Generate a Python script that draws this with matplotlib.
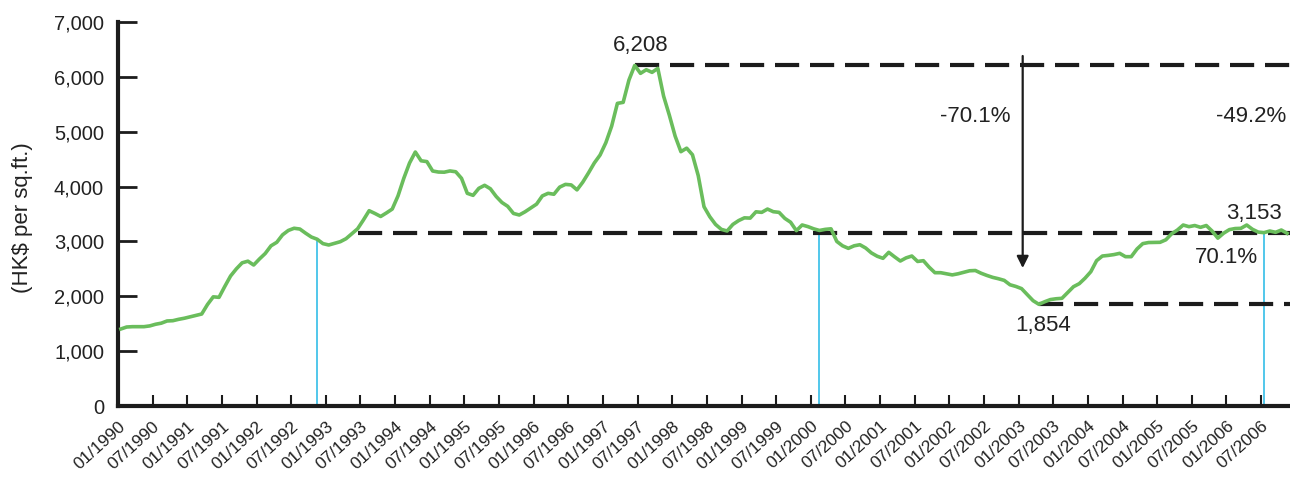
import matplotlib
matplotlib.use("Agg")
import matplotlib.pyplot as plt
import numpy as np

plt.rcParams['font.family'] = ['Liberation Sans', 'DejaVu Sans']

# Monthly average price, 01/1990 .. 11/2006 (HK$ per sq.ft.)
prices = [
    1404, 1440, 1446, 1446, 1446, 1460, 1490, 1510, 1550, 1555,
    1580, 1600, 1625, 1650, 1677, 1850, 1990, 1981, 2180, 2370,
    2500, 2610, 2640, 2570, 2680, 2780, 2920, 2984, 3120, 3200,
    3240, 3226, 3150, 3080, 3040, 2960, 2935, 2965, 2995, 3050,
    3140, 3230, 3390, 3560, 3510, 3455, 3520, 3590, 3830, 4150,
    4430, 4630, 4470, 4455, 4284, 4265, 4262, 4285, 4270, 4150,
    3877, 3840, 3968, 4023, 3960, 3820, 3710, 3640, 3510, 3482,
    3540, 3610, 3680, 3830, 3877, 3860, 3990, 4040, 4030, 3940,
    4080, 4250, 4430, 4575, 4800, 5100, 5517, 5535, 5942, 6208,
    6064, 6130, 6082, 6155, 5650, 5300, 4920, 4636, 4700, 4580,
    4200, 3633, 3451, 3310, 3220, 3190, 3310, 3380, 3430, 3425,
    3540, 3530, 3590, 3542, 3530, 3420, 3350, 3196, 3300, 3270,
    3230, 3200, 3220, 3230, 3000, 2920, 2874, 2920, 2940, 2880,
    2790, 2730, 2692, 2801, 2720, 2643, 2700, 2734, 2635, 2649,
    2530, 2430, 2430, 2410, 2390, 2410, 2437, 2465, 2470, 2420,
    2380, 2345, 2320, 2290, 2210, 2180, 2140, 2030, 1920, 1854,
    1900, 1940, 1955, 1963, 2070, 2175, 2230, 2330, 2448, 2649,
    2734, 2745, 2760, 2783, 2722, 2722, 2862, 2960, 2980, 2982,
    2984, 3030, 3140, 3208, 3299, 3269, 3290, 3257, 3290, 3190,
    3060, 3150, 3215, 3235, 3239, 3299, 3221, 3170, 3160, 3190,
    3166, 3208, 3148,
]

tick_labels = [
    "01/1990", "07/1990", "01/1991", "07/1991", "01/1992", "07/1992",
    "01/1993", "07/1993", "01/1994", "07/1994", "01/1995", "07/1995",
    "01/1996", "07/1996", "01/1997", "07/1997", "01/1998", "07/1998",
    "01/1999", "07/1999", "01/2000", "07/2000", "01/2001", "07/2001",
    "01/2002", "07/2002", "01/2003", "07/2003", "01/2004", "07/2004",
    "01/2005", "07/2005", "01/2006", "07/2006",
]

peak_value = 6208
trough_value = 1854
current_value = 3153
peak_idx = 89
trough_idx = 159
level_start_idx = 41
marker_idx = [34, 121, 198]

green = "#6abd5c"
cyan = "#22b8e6"
ink = "#1c1c1c"

fig = plt.figure(figsize=(12.9, 4.84), dpi=100)
ax = fig.add_axes([118/1290, 78/484, 1172/1290, 384/484])

x = np.arange(len(prices)) + 0.5

# vertical cyan markers
for i in marker_idx:
    ax.plot([x[i], x[i]], [0, prices[i]], color=cyan, lw=1.1, zorder=2)

# dashed reference levels
dash = (0, (5.8, 2.6))
xmax = 203
ax.plot([x[peak_idx], xmax], [peak_value, peak_value], color=ink, lw=3, ls=dash, zorder=3)
ax.plot([x[level_start_idx], xmax], [current_value, current_value], color=ink, lw=3, ls=dash, zorder=3)
ax.plot([x[trough_idx], xmax], [trough_value, trough_value], color=ink, lw=3, ls=dash, zorder=3)

ax.plot(x, prices, color=green, lw=2.6, zorder=4, solid_joinstyle='round')

# arrow
ax.annotate("", xy=(156.7, 2515), xytext=(156.7, 6380),
            arrowprops=dict(arrowstyle="-|>,head_width=0.35,head_length=0.7",
                            color=ink, lw=1.6, shrinkA=0, shrinkB=0), zorder=5)

fs = 16
tc = "#222222"
ax.text(90.6, 6580, "6,208", ha="center", va="center", fontsize=fs, color=tc)
ax.text(148.5, 5286, "-70.1%", ha="center", va="center", fontsize=fs, color=tc)
ax.text(196.2, 5286, "-49.2%", ha="center", va="center", fontsize=fs, color=tc)
ax.text(192.0, 2716, "70.1%", ha="center", va="center", fontsize=fs, color=tc)
ax.text(196.7, 3500, "3,153", ha="center", va="center", fontsize=fs, color=tc)
ax.text(160.3, 1476, "1,854", ha="center", va="center", fontsize=fs, color=tc)

ax.set_xlim(0, xmax)
ax.set_ylim(0, 7000)

ax.set_yticks(np.arange(0, 7001, 1000))
ax.set_yticklabels([f"{v:,}" for v in range(0, 7001, 1000)], fontsize=14.5, color=tc)
ax.set_xticks(np.arange(len(tick_labels)) * 6)
ax.set_xticklabels(tick_labels, rotation=42, ha="right", va="top",
                   rotation_mode="anchor", fontsize=12.5, color=tc)

ax.tick_params(axis="y", direction="in", length=14, width=2, color=ink, pad=10)
ax.tick_params(axis="x", direction="in", length=8, width=1.5, color=ink, pad=9)

for s in ["top", "right"]:
    ax.spines[s].set_visible(False)
for s in ["left", "bottom"]:
    ax.spines[s].set_linewidth(3)
    ax.spines[s].set_color(ink)

fig.text(23/1290, 1 - 218/484, "(HK$ per sq.ft.)", rotation=90, ha="center", va="center",
         fontsize=16, color=tc)

fig.savefig("out.png", dpi=100)
